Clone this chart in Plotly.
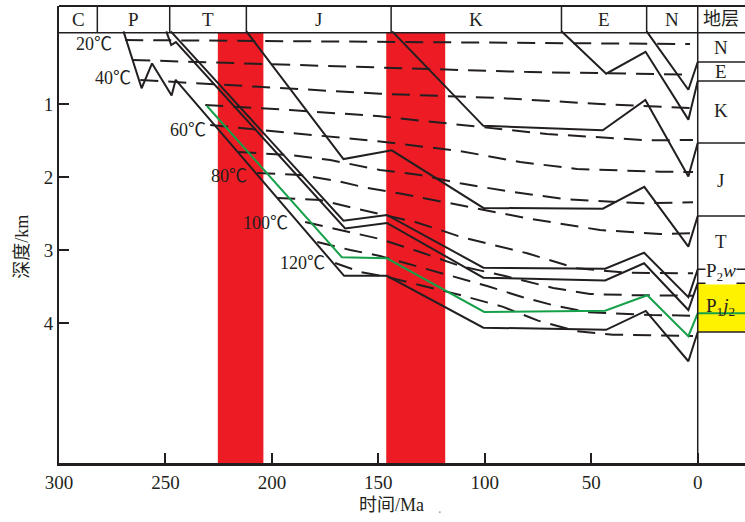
import plotly.graph_objects as go

# ---------------- data (time in Ma, depth in km) ----------------
periods = ["C", "P", "T", "J", "K", "E", "N"]
period_bounds = [300, 282, 248, 212, 144, 64, 24, 0]

strata_labels = ["N", "E", "K", "J", "T", "P<sub>2</sub><i>w</i>", "P<sub>1</sub><i>j</i><sub>2</sub>"]
strata_label_depth = [0.215, 0.544, 1.078, 2.037, 2.886, 3.297, 3.777]
strata_bounds = [0.42, 0.68, 1.53, 2.53, 3.26, 3.45, 4.12]
target_layer = (3.45, 4.12)

heating_events = [(225.4, 204.0), (146.3, 118.6)]

# burial curves (base of each unit)
n_base_t = [24, 4.4, 0]
n_base_d = [0, 0.80, 0.42]
e_base_t = [64, 43, 24.5, 4.4, 0]
e_base_d = [0, 0.58, 0.28, 1.21, 0.68]
k_base_t = [143.5, 100.7, 44.6, 24.6, 4.4, 0]
k_base_d = [0, 1.295, 1.355, 0.94, 1.99, 1.53]
j_base_t = [212, 166.4, 143.7, 100.7, 44.6, 25.1, 4.4, 0]
j_base_d = [0, 1.75, 1.63, 2.42, 2.43, 2.13, 2.95, 2.53]
t_base_t = [247.5, 166.4, 146.0, 100.7, 43.5, 25.2, 4.4, 0]
t_base_d = [0, 2.595, 2.516, 3.238, 3.253, 3.033, 3.642, 3.26]
p2w_base_t = [249.6, 247.3, 245.1, 165.6, 146.0, 100.7, 43.5, 25.2, 4.4, 0]
p2w_base_d = [0, 0.188, 0.147, 2.70, 2.626, 3.375, 3.414, 3.178, 3.818, 3.45]
p1j2_base_t = [269.7, 261.2, 256.3, 247.1, 245.2, 166.1, 146.0, 100.7, 43.05, 24.4, 4.4, 0]
p1j2_base_d = [0, 0.78, 0.44, 0.88, 0.664, 3.35, 3.35, 4.06, 4.09, 3.83, 4.52, 4.12]
# source rock (green)
p1j2_mid_t = [230.5, 167.1, 146.0, 100.3, 43.5, 23.7, 4.4, 0, -22.2]
p1j2_mid_d = [1.023, 3.096, 3.11, 3.845, 3.827, 3.616, 4.177, 3.863, 3.863]

# isotherms
iso_20_t = [268.9, 210.2, 149.2, 69.3, 3.6]
iso_20_d = [0.119, 0.133, 0.147, 0.160, 0.174]
iso_30_t = [265.6, 205.5, 149.2, 78.7, 3.6]
iso_30_d = [0.393, 0.448, 0.503, 0.558, 0.592]
iso_40_t = [261.8, 205.5, 149.2, 92.8, 45.9, 3.6]
iso_40_d = [0.667, 0.763, 0.855, 0.914, 0.996, 1.051]
iso_50_t = [231.3, 191.4, 149.2, 111.6, 70.8, 23.8, 2.2]
iso_50_d = [1.010, 1.078, 1.164, 1.279, 1.407, 1.493, 1.489]
iso_60_t = [229.0, 186.7, 149.2, 111.6, 83.4, 56.7, 17.7, 2.2]
iso_60_d = [1.284, 1.407, 1.510, 1.640, 1.790, 1.886, 1.923, 1.927]
iso_70_t = [215.8, 191.4, 172.6, 149.2, 130.4, 111.6, 88.1, 61.4, 25.7, 2.2]
iso_70_d = [1.653, 1.695, 1.763, 1.900, 1.968, 2.082, 2.197, 2.301, 2.356, 2.342]
iso_80_t = [206.9, 186.7, 169.3, 155.3, 139.8, 124.3, 111.6, 80.1, 45.9, 17.7, 2.2]
iso_80_d = [1.941, 1.968, 2.050, 2.146, 2.222, 2.311, 2.379, 2.562, 2.722, 2.777, 2.767]
iso_90_t = [197.5, 177.3, 161.8, 147.7, 132.7, 121.0, 111.6, 80.1, 56.7, 33.2, 2.2]
iso_90_d = [2.284, 2.311, 2.421, 2.516, 2.612, 2.722, 2.814, 3.041, 3.247, 3.307, 3.315]
iso_100_t = [184.4, 168.0, 149.2, 130.4, 111.6, 90.5, 67.9, 50.6, 28.5, 2.2]
iso_100_d = [2.612, 2.722, 2.845, 3.023, 3.215, 3.352, 3.516, 3.599, 3.616, 3.622]
iso_110_t = [178.7, 163.2, 149.2, 130.4, 111.6, 98.9, 82.5, 67.0, 51.5, 21.5, 2.2]
iso_110_d = [2.886, 2.996, 3.078, 3.229, 3.379, 3.489, 3.640, 3.759, 3.849, 3.886, 3.896]
iso_120_t = [170.3, 158.5, 145.9, 130.4, 111.6, 91.4, 75.0, 56.7, 39.8, 2.2]
iso_120_d = [3.174, 3.297, 3.366, 3.475, 3.612, 3.775, 3.964, 4.110, 4.156, 4.174]

iso_labels = ["20℃", "40℃", "60℃", "80℃", "100℃", "120℃"]
iso_label_t = [283.4, 274.5, 239.3, 220.0, 203.1, 185.8]
iso_label_d = [0.174, 0.640, 1.352, 1.982, 2.626, 3.174]

x_ticks = [300, 250, 200, 150, 100, 50, 0]
y_ticks = [1, 2, 3, 4]

# ---------------- styling ----------------
X_MIN, X_MAX = 300, -22.2
Y_TOP, Y_BOT = -0.347, 5.914
HDR_BOT = 0.02
COL_X = -10.9
INK = "#231f20"
SERIF = "Liberation Serif, Noto Sans CJK SC"

fig = go.Figure()

isotherms = [(iso_20_t, iso_20_d), (iso_30_t, iso_30_d), (iso_40_t, iso_40_d),
             (iso_50_t, iso_50_d), (iso_60_t, iso_60_d), (iso_70_t, iso_70_d),
             (iso_80_t, iso_80_d), (iso_90_t, iso_90_d), (iso_100_t, iso_100_d),
             (iso_110_t, iso_110_d), (iso_120_t, iso_120_d)]
for t, d in isotherms:
    fig.add_trace(go.Scatter(x=t, y=d, mode="lines",
                             line=dict(color=INK, width=2, dash="18px,10px"),
                             hoverinfo="skip", showlegend=False))

burial = [(n_base_t, n_base_d), (e_base_t, e_base_d), (k_base_t, k_base_d),
          (j_base_t, j_base_d), (t_base_t, t_base_d), (p2w_base_t, p2w_base_d),
          (p1j2_base_t, p1j2_base_d)]
for t, d in burial:
    fig.add_trace(go.Scatter(x=t, y=d, mode="lines",
                             line=dict(color=INK, width=2),
                             hoverinfo="skip", showlegend=False))

fig.add_trace(go.Scatter(x=p1j2_mid_t, y=p1j2_mid_d, mode="lines",
                         line=dict(color="#16a04a", width=2),
                         hoverinfo="skip", showlegend=False))

shapes = []
for a, b in heating_events:
    shapes.append(dict(type="rect", xref="x", yref="y", x0=a, x1=b, y0=HDR_BOT, y1=Y_BOT,
                       fillcolor="#ed1c24", line=dict(width=0), layer="below"))
shapes.append(dict(type="rect", xref="x", yref="y", x0=0, x1=X_MAX, y0=target_layer[0],
                   y1=target_layer[1], fillcolor="#fff200", line=dict(width=0), layer="below"))
shapes.append(dict(type="line", xref="paper", yref="paper", x0=0, x1=1, y0=1, y1=1,
                   line=dict(color=INK, width=2)))
shapes.append(dict(type="line", xref="paper", yref="y", x0=0, x1=1, y0=HDR_BOT, y1=HDR_BOT,
                   line=dict(color=INK, width=1.5)))
for b in period_bounds[1:-1]:
    shapes.append(dict(type="line", xref="x", yref="y", x0=b, x1=b, y0=Y_TOP, y1=HDR_BOT,
                       line=dict(color=INK, width=1.5)))
shapes.append(dict(type="line", xref="x", yref="y", x0=0, x1=0, y0=Y_TOP, y1=Y_BOT,
                   line=dict(color=INK, width=1.5)))
for d in strata_bounds:
    shapes.append(dict(type="line", xref="x", yref="y", x0=0, x1=X_MAX, y0=d, y1=d,
                       line=dict(color=INK, width=1.5)))

annotations = []
for i, p in enumerate(periods):
    xm = (period_bounds[i] + period_bounds[i + 1]) / 2
    annotations.append(dict(x=xm, y=-0.165, xref="x", yref="y", text=p, showarrow=False,
                            xanchor="center", yanchor="middle",
                            font=dict(family=SERIF, size=19, color=INK)))
annotations.append(dict(x=COL_X, y=-0.165, xref="x", yref="y", text="地层", showarrow=False,
                        xanchor="center", yanchor="middle",
                        font=dict(family=SERIF, size=18, color=INK)))
for lab, d in zip(strata_labels, strata_label_depth):
    bg = "white" if "w" in lab else "rgba(0,0,0,0)"
    annotations.append(dict(x=COL_X, y=d, xref="x", yref="y", text=lab, showarrow=False,
                            xanchor="center", yanchor="middle", bgcolor=bg, borderpad=0,
                            font=dict(family=SERIF, size=19, color=INK)))
for lab, t, d in zip(iso_labels, iso_label_t, iso_label_d):
    annotations.append(dict(x=t, y=d, xref="x", yref="y", text=lab, showarrow=False,
                            xanchor="center", yanchor="middle",
                            font=dict(family=SERIF, size=18, color=INK)))
annotations.append(dict(x=144, y=-0.092, xref="x", yref="paper", text="时间/Ma",
                        xanchor="center", yanchor="middle",
                        showarrow=False, font=dict(family=SERIF, size=18, color=INK)))
annotations.append(dict(x=121, y=-0.099, xref="x", yref="paper", text=".",
                        xanchor="center", yanchor="middle",
                        showarrow=False, font=dict(family=SERIF, size=14, color="#999")))
annotations.append(dict(x=-0.054, y=0.473, xref="paper", yref="paper", text="深度/km",
                        textangle=-90, showarrow=False, xanchor="center", yanchor="middle",
                        font=dict(family=SERIF, size=18, color=INK)))

fig.update_layout(
    width=745, height=522,
    margin=dict(l=59, r=0, t=6, b=59),
    paper_bgcolor="white", plot_bgcolor="white",
    showlegend=False,
    shapes=shapes, annotations=annotations,
    xaxis=dict(range=[X_MIN, X_MAX], tickvals=x_ticks, ticktext=[str(v) for v in x_ticks],
               ticks="inside", ticklen=10, tickwidth=2, tickcolor=INK,
               showline=True, linecolor=INK, linewidth=2.5,
               showgrid=False, zeroline=False,
               tickfont=dict(family=SERIF, size=19, color=INK)),
    yaxis=dict(range=[Y_BOT, Y_TOP], tickvals=y_ticks, ticktext=[str(v) for v in y_ticks],
               ticks="inside", ticklen=10, tickwidth=2, tickcolor=INK,
               showline=True, linecolor=INK, linewidth=2,
               showgrid=False, zeroline=False,
               tickfont=dict(family=SERIF, size=19, color=INK)),
)

fig.write_html("out.html")
